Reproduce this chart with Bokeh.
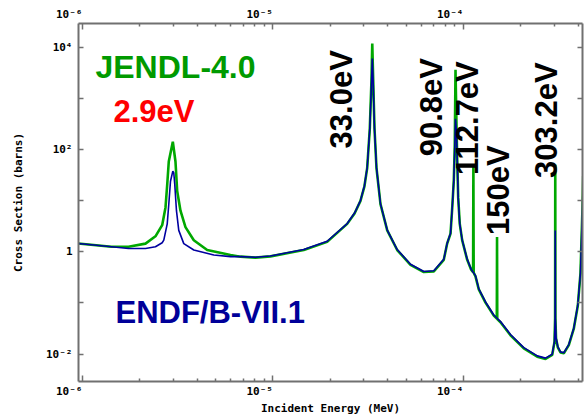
from math import pi
from bokeh.plotting import figure
from bokeh.models import Range1d, LogAxis, FixedTicker, CustomJSTickFormatter, Label
from bokeh.embed import file_html
from bokeh.resources import INLINE

# ---------------- data (energies in eV, cross sections in barns) ----------------
jendl_e_ev = [0.90, 0.95, 1.42, 1.744, 2.142, 2.416, 2.62, 2.728, 2.785, 2.838, 2.98,
              3.077, 3.141, 3.269, 3.472, 3.84, 4.514, 5.983, 6.751, 8.09, 9.70,
              14.51, 19.25, 24.52, 26.8, 28.79, 30.2, 31.22, 32.22, 32.89, 33.2, 33.57, 34.11,
              34.94, 36.67, 39.78, 44.87, 52.7, 61.9, 69.86, 78.8, 82.1, 85.5, 87.3,
              88.95, 90.0, 90.8, 91.9, 92.67, 93.8, 95.6, 98.4, 104.6, 109.7, 112.3,
              112.7, 113.1, 115.6, 120.3, 130.5, 144.2, 149.6, 150.0, 150.4, 156.4,
              176.5, 207.3, 243.8, 269.5, 292.2, 300.4, 302.6, 303.2, 303.8, 306.0,
              312.6, 323.0, 336.2, 357.1, 379.3, 398.1, 411.3, 421.4, 425.0]
jendl_xs = [1.48, 1.45, 1.25, 1.25, 1.44, 2.0, 3.3, 7.34, 20.6, 58.0, 141.0,
            58.0, 15.4, 6.34, 3.03, 1.68, 1.078, 0.864, 0.80, 0.767, 0.81,
            1.078, 1.557, 3.5, 5.6, 9.87, 19.0, 43.1, 253.0, 2320.0, 11780.0, 2320.0, 253.0,
            43.1, 8.49, 2.614, 1.078, 0.555, 0.40, 0.41, 0.693, 1.444, 2.25, 7.34,
            25.0, 120.0, 3612.0, 295.0, 67.0, 11.4, 3.5, 1.68, 0.693, 0.445, 0.40,
            49.9, 0.39, 0.33, 0.183, 0.101, 0.0562, 0.049, 1.94, 0.048, 0.0418,
            0.0232, 0.01287, 0.00887, 0.0080, 0.00957, 0.0172, 0.05, 49.9, 0.05, 0.02,
            0.0135, 0.0107, 0.0103, 0.0149, 0.0312, 0.0876, 0.383, 7.3, 30.0]

endf_e_ev = [0.90, 0.95, 1.42, 1.744, 2.142, 2.416, 2.62, 2.672, 2.785, 2.838, 2.897,
             2.98, 3.015, 3.051, 3.114, 3.202, 3.402, 3.84, 4.89, 5.983, 6.751, 8.09,
             9.70, 14.51, 19.25, 24.52, 26.8, 28.79, 30.2, 31.22, 32.22, 32.89, 33.2, 33.57, 34.11,
             34.94, 36.67, 39.78, 44.87, 52.7, 61.9, 69.86, 78.8, 82.1, 85.5, 87.3,
             88.95, 90.0, 90.8, 91.9, 92.67, 93.8, 95.6, 98.4, 104.6, 109.7, 115.6,
             120.3, 130.5, 144.2, 156.4, 176.5, 207.3, 243.8, 269.5, 292.2, 300.4,
             302.6, 303.2, 303.8, 306.0, 312.6, 323.0, 336.2, 357.1, 379.3, 398.1,
             411.3, 421.4, 425.0]
endf_xs = [1.48, 1.45, 1.25, 1.157, 1.157, 1.25, 1.5, 1.68, 3.5, 8.49, 23.9,
           37.5, 34.6, 20.6, 6.34, 2.61, 1.44, 1.078, 0.864, 0.80, 0.80, 0.78,
           0.827, 1.10, 1.60, 3.55, 5.7, 10.0, 19.5, 44.0, 255.0, 2000.0, 6000.0, 2000.0, 255.0,
           44.0, 8.6, 2.65, 1.10, 0.57, 0.41, 0.425, 0.71, 1.47, 2.3, 7.5,
           25.0, 110.0, 395.0, 200.0, 67.0, 11.4, 3.5, 1.70, 0.71, 0.455, 0.34,
           0.188, 0.104, 0.058, 0.043, 0.024, 0.0133, 0.0092, 0.0083, 0.0099, 0.0178,
           0.05, 2.6, 0.05, 0.021, 0.014, 0.011, 0.0106, 0.0153, 0.032, 0.09,
           0.39, 7.3, 30.0]

x_major_ticks = [1e-6, 1e-5, 1e-4]
x_minor_ticks = [m * d for d in (1e-6, 1e-5, 1e-4) for m in range(2, 10) if m * d < 4.3e-4]
y_major_ticks = [1e-2, 1e-1, 1.0, 1e1, 1e2, 1e3, 1e4]

res_labels = ["33.0eV", "90.8eV", "112.7eV", "150eV", "303.2eV"]

# ---------------- figure ----------------
EV = 1e-6  # eV -> MeV
jendl_e = [e * EV for e in jendl_e_ev]
endf_e = [e * EV for e in endf_e_ev]

p = figure(width=585, height=417, x_axis_type="log", y_axis_type="log",
           x_range=Range1d(0.953e-6, 4.214e-4), y_range=Range1d(0.0029, 28940),
           output_backend="svg", toolbar_location=None,
           min_border_left=78, min_border_right=3, min_border_top=23, min_border_bottom=30)
p.grid.visible = False
p.outline_line_color = None
p.background_fill_color = "white"
p.border_fill_color = "white"

sup = r"""
const s = {"0":"\u2070","1":"\u00b9","2":"\u00b2","3":"\u00b3","4":"\u2074","5":"\u2075",
           "6":"\u2076","7":"\u2077","8":"\u2078","9":"\u2079","-":"\u207b"};
const e = Math.round(Math.log10(tick));
"""
x_fmt_code = sup + r"""
return "10" + String(e).split("").map(c => s[c]).join("") + "\u00a0\u00a0\u00a0\u00a0";
"""
y_fmt_code = sup + r"""
if (Math.abs(e % 2) == 1) { return ""; }
if (e == 0) { return "1"; }
return "10" + String(e).split("").map(c => s[c]).join("");
"""

AX = "#707070"
TICK_FONT = "DejaVu Sans Mono"


def style_axis(ax, major_in, minor_in):
    ax.axis_line_color = AX
    ax.axis_line_width = 2
    ax.major_tick_line_color = AX
    ax.minor_tick_line_color = AX
    ax.major_tick_line_width = 1.5
    ax.minor_tick_line_width = 1.5
    ax.major_tick_in = major_in
    ax.major_tick_out = 0
    ax.minor_tick_in = minor_in
    ax.minor_tick_out = 0
    ax.major_label_text_font = TICK_FONT
    ax.major_label_text_font_style = "bold"
    ax.major_label_text_font_size = "11px"
    ax.major_label_text_color = "black"
    ax.axis_label_text_font = TICK_FONT
    ax.axis_label_text_font_style = "bold"
    ax.axis_label_text_font_size = "11px"
    ax.axis_label_text_color = "black"


xtick = FixedTicker(ticks=x_major_ticks, minor_ticks=x_minor_ticks)
ytick = FixedTicker(ticks=y_major_ticks, minor_ticks=[])

bx = p.xaxis[0]
bx.ticker = xtick
bx.formatter = CustomJSTickFormatter(code=x_fmt_code)
style_axis(bx, 6, 3)
bx.major_label_standoff = 3
bx.axis_label = "Incident Energy (MeV)"
bx.axis_label_standoff = 1

ly = p.yaxis[0]
ly.ticker = ytick
ly.formatter = CustomJSTickFormatter(code=y_fmt_code)
style_axis(ly, 5, 0)
ly.major_label_standoff = 6
ly.axis_label = "Cross Section (barns)"
ly.axis_label_standoff = 18

tx = LogAxis(ticker=xtick, formatter=CustomJSTickFormatter(code=x_fmt_code))
style_axis(tx, 6, 3)
tx.major_label_standoff = 3
p.add_layout(tx, "above")

ry = LogAxis(ticker=ytick, formatter=CustomJSTickFormatter(code="return '';"))
style_axis(ry, 5, 0)
ry.major_label_standoff = 0
ry.major_label_text_font_size = "0px"
p.add_layout(ry, "right")

# ---------------- curves ----------------
p.line(jendl_e, jendl_xs, line_color="#00a800", line_width=2.6)
p.line(endf_e, endf_xs, line_color="#0000a0", line_width=1.6)

# ---------------- texts ----------------
BIG = "Liberation Sans"
p.add_layout(Label(x=1.17e-6, y=4126, text="JENDL-4.0", text_color="#009a00",
                   text_font=BIG, text_font_style="bold", text_font_size="32px",
                   text_baseline="alphabetic"))
p.add_layout(Label(x=1.455e-6, y=562, text="2.9eV", text_color="#ff0000",
                   text_font=BIG, text_font_style="bold", text_font_size="31px",
                   text_baseline="alphabetic"))
p.add_layout(Label(x=1.49e-6, y=0.0641, text="ENDF/B-VII.1", text_color="#000099",
                   text_font=BIG, text_font_style="bold", text_font_size="31px",
                   text_baseline="alphabetic"))

res_x = [22.86e-6, 67.96e-6, 104.9e-6, 152.7e-6, 272.6e-6]
res_y = [104.5, 73.3, 31.6, 2.12, 27.7]
for t, xx, yy in zip(res_labels, res_x, res_y):
    p.add_layout(Label(x=xx, y=yy, text=t, angle=pi / 2, text_color="black",
                       text_font=BIG, text_font_style="bold", text_font_size="31px",
                       text_align="left", text_baseline="alphabetic"))

open("out.html", "w", encoding="utf-8").write(file_html(p, INLINE))
